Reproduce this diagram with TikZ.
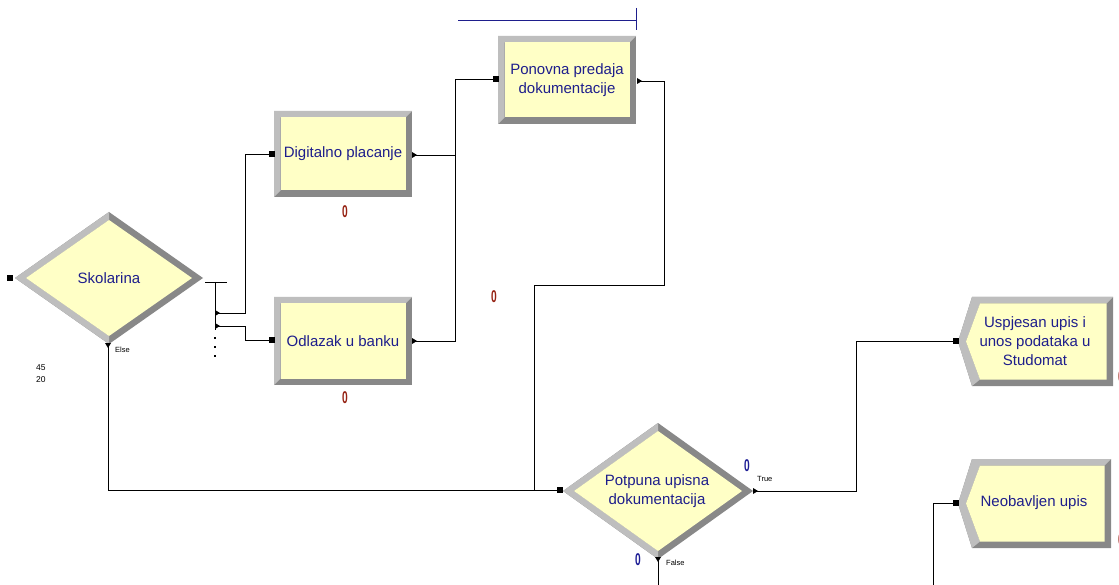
\documentclass[tikz,border=0pt]{standalone}
\usepackage{fontspec}
\setmainfont{Liberation Sans}
\definecolor{fillY}{RGB}{255,255,198}
\definecolor{bevL}{RGB}{190,190,190}
\definecolor{bevD}{RGB}{136,136,136}
\definecolor{navytxt}{RGB}{30,30,140}
\definecolor{cntred}{RGB}{150,35,20}
\definecolor{cntblue}{RGB}{30,30,150}
\newcommand{\bevrect}[4]{%
  \fill[bevD] (#1,#2) rectangle (#3,#4);
  \fill[bevL] (#1,#2) -- (#3,#2) -- (#3-6.5,#2+6.5) -- (#1+6.5,#2+6.5) -- (#1+6.5,#4-6.5) -- (#1,#4) -- cycle;
  \fill[fillY] (#1+6.5,#2+6.5) rectangle (#3-6.5,#4-6.5);}
% cx cy hw hh
\newcommand{\bevdiam}[4]{%
  \fill[bevD] (#1-#3,#2) -- (#1,#2-#4) -- (#1+#3,#2) -- (#1,#2+#4) -- cycle;
  \fill[bevL] (#1,#2-#4) -- (#1,#2-#4+8) -- (#1-#3+11,#2) -- (#1,#2+#4-8) -- (#1,#2+#4) -- (#1-#3,#2) -- cycle;
  \fill[fillY] (#1-#3+11,#2) -- (#1,#2-#4+8) -- (#1+#3-11,#2) -- (#1,#2+#4-8) -- cycle;}
% x1 y1 x2 y2 tipx ymid
\newcommand{\bevterm}[6]{%
  \fill[bevD] (#1,#2) -- (#3,#2) -- (#3,#4) -- (#1,#4) -- (#5,#6) -- cycle;
  \fill[bevL] (#1,#2) -- (#3,#2) -- (#3-6.5,#2+6.5) -- (#1+8,#2+6.5) -- (#5+8,#6) -- (#1+8,#4-6.5) -- (#1,#4) -- (#5,#6) -- cycle;
  \fill[fillY] (#1+8,#2+6.5) -- (#3-6.5,#2+6.5) -- (#3-6.5,#4-6.5) -- (#1+8,#4-6.5) -- (#5+8,#6) -- cycle;}
\newcommand{\exitR}[1]{\fill (#1) ++(0,-3) -- ++(5,3) -- ++(-5,3) -- cycle;}
\newcommand{\exitD}[1]{\fill (#1) ++(-3,0) -- ++(6,0) -- ++(-3,5) -- cycle;}
\newcommand{\entry}[1]{\fill (#1) ++(-2.6,-2.6) rectangle ++(5.2,5.2);}
\tikzset{
  lbl/.style={font=\fontsize{15}{19}\selectfont, text=navytxt, align=center, inner sep=0pt},
  conn/.style={draw=black, line width=0.9pt},
  small/.style={font=\fontsize{7.5}{9}\selectfont, text=black, inner sep=0pt, anchor=west},
  cnt/.style={font=\fontsize{17}{17}\selectfont\bfseries, inner sep=0pt},
}
\begin{document}
\begin{tikzpicture}[x=1pt,y=-1pt]
\clip (0,0) rectangle (1119,585);
\fill[white] (0,0) rectangle (1119,585);
% shapes
\bevdiam{109}{278}{94}{66}
\bevrect{274}{111}{412}{197}
\bevrect{274}{297}{412}{385}
\bevrect{498}{36}{636}{124}
\bevdiam{658}{491}{95}{68}
\bevterm{972}{297}{1113}{386}{958}{341.5}
\bevterm{972}{459}{1111}{548}{958}{503.5}
% labels
\node[lbl] (sk) at (109,278) {Skolarina};
\node[lbl] (dp) at (343,154) {Digitalno placanje};
\node[lbl] (ob) at (343,341) {Odlazak u banku};
\node[lbl] (pp) at (567,80) {Ponovna predaja\\dokumentacije};
\node[lbl] (pt) at (657,491) {Potpuna upisna\\dokumentacija};
\node[lbl] (us) at (1035,341) {Uspjesan upis i\\unos podataka u\\Studomat};
\node[lbl] (ne) at (1034,503) {Neobavljen upis};
% ports
\coordinate (sk-in) at (10,278);
\coordinate (sk-else) at (108,343);
\coordinate (sk-out) at (205,282);
\coordinate (sk-o1) at (215,313);
\coordinate (sk-o2) at (215,326);
\coordinate (dp-in) at (272,154);
\coordinate (dp-out) at (412,155);
\coordinate (ob-in) at (272,340);
\coordinate (ob-out) at (412,341);
\coordinate (pp-in) at (496,79);
\coordinate (pp-out) at (637,81);
\coordinate (pt-in) at (560,490);
\coordinate (pt-true) at (753,491);
\coordinate (pt-false) at (658,557);
\coordinate (us-in) at (956,341);
\coordinate (ne-in) at (956,503);
\coordinate (ne-src) at (933,585);
\coordinate (pt-fend) at (658,585);
% connectors
\draw[conn] (sk-else) -- (108,490) -- (pt-in);
\draw[conn] (sk-out) -- (227,282);
\draw[conn] (215,282) -- (215,330);
\draw[conn] (sk-o1) -- (245,313) |- (dp-in);
\draw[conn] (sk-o2) -- (245,326) |- (ob-in);
\draw[conn] (dp-out) -- (455,155);
\draw[conn] (ob-out) -- (455,341) |- (pp-in);
\draw[conn] (pp-out) -- (664,81) -- (664,285) -- (534,285) -- (534,490);
\draw[conn] (pt-true) -- (856,491) |- (us-in);
\draw[conn] (pt-false) -- (pt-fend);
\draw[conn] (ne-src) |- (ne-in);
% port marks
\entry{sk-in}
\entry{dp-in}
\entry{ob-in}
\entry{pp-in}
\entry{pt-in}
\entry{us-in}
\entry{ne-in}
\exitR{sk-o1}
\exitR{sk-o2}
\exitR{dp-out}
\exitR{ob-out}
\exitR{pp-out}
\exitR{pt-true}
\exitD{sk-else}
\exitD{pt-false}
\foreach \yy in {338,347,356} \fill (214.2,\yy-0.8) rectangle ++(1.6,1.6);
% top line
\draw[navytxt, line width=0.8pt] (458,20) -- (636,20);
\draw[navytxt, line width=0.8pt] (636,8) -- (636,30);
% small labels
\node[small] (lelse) at (115,350) {Else};
\node[small] (ltrue) at (757,479) {True};
\node[small] (lfalse) at (666,563) {False};
\node[small, font=\fontsize{8.5}{10}\selectfont] (n45) at (36,368) {45};
\node[small, font=\fontsize{8.5}{10}\selectfont] (n20) at (36,380) {20};
% counters
\node[cnt, text=cntred] (c1) at (345,212) {\scalebox{0.6}[1]{0}};
\node[cnt, text=cntred] (c2) at (345,398) {\scalebox{0.6}[1]{0}};
\node[cnt, text=cntred] (c3) at (494,297) {\scalebox{0.6}[1]{0}};
\node[cnt, text=cntblue] (c4) at (747,466) {\scalebox{0.6}[1]{0}};
\node[cnt, text=cntblue] (c5) at (638,560) {\scalebox{0.6}[1]{0}};
\node[cnt, text=cntred] (c6) at (1121,377) {\scalebox{0.6}[1]{0}};
\node[cnt, text=cntred] (c7) at (1121,540) {\scalebox{0.6}[1]{0}};
\end{tikzpicture}
\end{document}
